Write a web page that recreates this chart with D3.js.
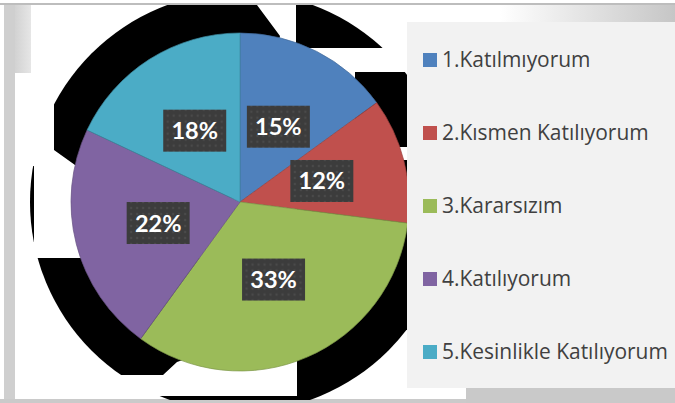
<!DOCTYPE html>
<html>
<head>
<meta charset="utf-8">
<script src="https://cdn.jsdelivr.net/npm/d3@7"></script>
<style>
  body { margin: 0; background: #fff; }
  svg { display: block; }
</style>
</head>
<body>
<div id="chart"></div>
<script>
// chart data
var categories = ["1.Katılmıyorum", "2.Kısmen Katılıyorum", "3.Kararsızım", "4.Katılıyorum", "5.Kesinlikle Katılıyorum"];
var values = [15, 12, 33, 22, 18];
var colors = ["#4f81bd", "#c0504d", "#9bbb59", "#8064a2", "#4bacc6"];

var width = 675, height = 403;
var cx = 240, cy = 202, radius = 169;

var svg = d3.select("#chart").append("svg")
  .attr("width", width)
  .attr("height", height);

var defs = svg.append("defs");

// gradients for the frame
var gTop = defs.append("linearGradient").attr("id", "gTop");
gTop.append("stop").attr("offset", "0").attr("stop-color", "#ffffff");
gTop.append("stop").attr("offset", "1").attr("stop-color", "#c6c6c6");

var gLeft = defs.append("linearGradient").attr("id", "gLeft");
gLeft.append("stop").attr("offset", "0").attr("stop-color", "#d2d2d2");
gLeft.append("stop").attr("offset", "1").attr("stop-color", "#e6e6e6");

// dotted texture for the data label boxes
var pat = defs.append("pattern")
  .attr("id", "dots")
  .attr("width", 6).attr("height", 6)
  .attr("patternUnits", "userSpaceOnUse");
pat.append("rect").attr("width", 6).attr("height", 6).attr("fill", "#3c3c3c");
pat.append("circle").attr("cx", 3).attr("cy", 3).attr("r", 1.2).attr("fill", "#4a4a4a");

// frame
svg.append("rect").attr("width", width).attr("height", height).attr("fill", "#fff");
svg.append("rect").attr("x", 0).attr("y", 3).attr("width", width).attr("height", 2).attr("fill", "#bdbdbd");
svg.append("rect").attr("x", 500).attr("y", 5).attr("width", 175).attr("height", 17).attr("fill", "url(#gTop)");
svg.append("rect").attr("x", 4).attr("y", 5).attr("width", 11).attr("height", 395).attr("fill", "#cfcfcf");
svg.append("rect").attr("x", 15).attr("y", 5).attr("width", 16).attr("height", 68).attr("fill", "url(#gLeft)");
svg.append("rect").attr("x", 0).attr("y", 399).attr("width", width).attr("height", 4).attr("fill", "#cacaca");
svg.append("rect").attr("x", 466).attr("y", 388).attr("width", 209).attr("height", 15).attr("fill", "#c9c9c9");

// broken black shadow behind the pie, only some tiles of it show
var clip = defs.append("clipPath").attr("id", "shadowClip");
var tiles = [
  [[54, 5], [257, 5], [280, 36], [240, 200], [75, 165], [54, 150]],
  [[296, 5], [407, 5], [407, 48], [296, 48]],
  [[355, 72], [407, 72], [407, 147], [355, 147]],
  [[28, 166], [34, 166], [34, 242], [28, 242]],
  [[0, 258], [240, 258], [240, 340], [177, 362], [163, 375], [0, 375]],
  [[297, 160], [407, 160], [407, 400], [297, 400]],
  [[158, 396], [297, 396], [297, 400], [158, 400]]
];
clip.selectAll("polygon")
  .data(tiles)
  .enter().append("polygon")
  .attr("points", function (d) { return d.join(" "); });

svg.append("circle")
  .attr("cx", cx).attr("cy", cy).attr("r", 210)
  .attr("fill", "#000")
  .attr("clip-path", "url(#shadowClip)");

// pie
var pie = d3.pie().sort(null).value(function (d) { return d; });
var arc = d3.arc().innerRadius(0).outerRadius(radius);
var labelArc = d3.arc().innerRadius(radius * 0.5).outerRadius(radius * 0.5);

var g = svg.append("g").attr("transform", "translate(" + cx + "," + cy + ")");

var arcs = pie(values);

g.selectAll(".slice")
  .data(arcs)
  .enter().append("path")
  .attr("class", "slice")
  .attr("d", arc)
  .attr("fill", function (d, i) { return colors[i]; })
  .attr("stroke", function (d, i) { return d3.color(colors[i]).darker(0.6); })
  .attr("stroke-width", 0.7);

// data labels
var labels = g.selectAll(".lbl")
  .data(arcs)
  .enter().append("g")
  .attr("class", "lbl")
  .attr("transform", function (d) { return "translate(" + labelArc.centroid(d) + ")"; });

labels.append("rect")
  .attr("x", -31.5).attr("y", -21)
  .attr("width", 63).attr("height", 42)
  .attr("fill", "url(#dots)");

labels.append("text")
  .attr("text-anchor", "middle")
  .attr("y", 8.5)
  .attr("fill", "#fff")
  .style("font-family", "Lato, 'Open Sans', sans-serif")
  .style("font-weight", "bold")
  .style("font-size", "23.5px")
  .text(function (d) { return d.data + "%"; });

// legend box
svg.append("rect")
  .attr("x", 407).attr("y", 22)
  .attr("width", 268).attr("height", 366)
  .attr("fill", "#f2f2f2");

var ly = d3.scalePoint().domain(categories).range([60, 352]);

var legend = svg.selectAll(".legend")
  .data(categories)
  .enter().append("g")
  .attr("class", "legend")
  .attr("transform", function (d) { return "translate(423," + ly(d) + ")"; });

legend.append("rect")
  .attr("x", 0).attr("y", -7)
  .attr("width", 14).attr("height", 14)
  .attr("fill", function (d, i) { return colors[i]; });

var legendText = legend.append("text")
  .attr("x", 19).attr("y", 7)
  .attr("fill", "#404040")
  .style("font-family", "'Open Sans', sans-serif")
  .style("font-size", "19px")
  .text(function (d) { return d; });

// fit the legend font so the longest entry spans about 226px like the reference
var longest = d3.max(legendText.nodes(), function (n) { return n.getComputedTextLength(); });
legendText.style("font-size", (19 * 226 / longest).toFixed(2) + "px");
</script>
</body>
</html>
